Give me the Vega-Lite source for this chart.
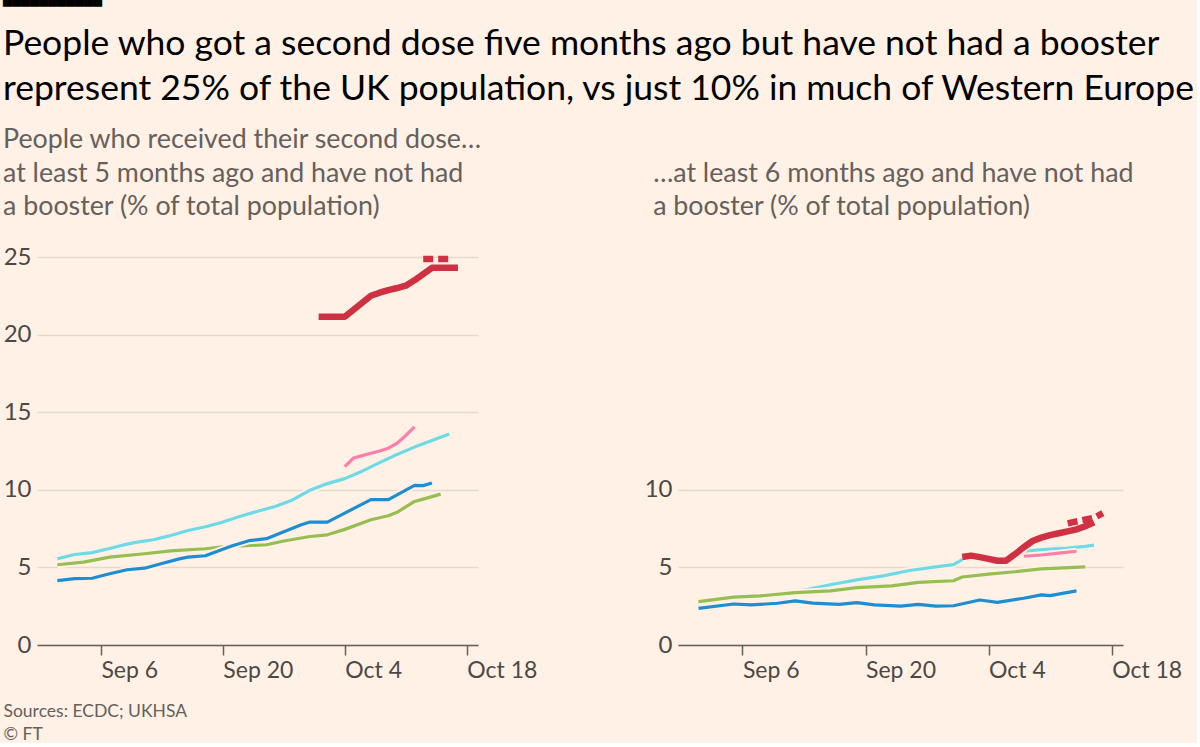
{
  "$schema": "https://vega.github.io/schema/vega-lite/v6.json",
  "background": "#FFF1E5",
  "padding": {"left": 3, "top": 0, "right": 0, "bottom": 0},
  "config": {
    "view": {"stroke": null},
    "font": "Lato",
    "axis": {"labelFont": "Lato", "titleFont": "Lato"}
  },
  "title": {
    "text": "▀▀▀▀▀▀▀▀▀▀▀",
    "subtitle": ["People who got a second dose five months ago but have not had a booster", "represent 25% of the UK population, vs just 10% in much of Western Europe"],
    "anchor": "start",
    "frame": "bounds",
    "font": "DejaVu Sans Mono",
    "fontSize": 14.949,
    "color": "#000000",
    "subtitleFont": "Lato",
    "subtitleFontSize": 35.5,
    "subtitleColor": "#000000",
    "subtitleLineHeight": 45,
    "subtitlePadding": 12,
    "offset": 19.3
  },
  "datasets": {
    "five": [
      {"series": "A", "date": "2021-09-01T00:00", "value": 5.56},
      {"series": "A", "date": "2021-09-03T00:00", "value": 5.83},
      {"series": "A", "date": "2021-09-05T00:00", "value": 5.95},
      {"series": "A", "date": "2021-09-07T00:00", "value": 6.22},
      {"series": "A", "date": "2021-09-09T00:00", "value": 6.5},
      {"series": "A", "date": "2021-09-10T00:00", "value": 6.61},
      {"series": "A", "date": "2021-09-12T00:00", "value": 6.78},
      {"series": "A", "date": "2021-09-14T00:00", "value": 7.05},
      {"series": "A", "date": "2021-09-16T00:00", "value": 7.38},
      {"series": "A", "date": "2021-09-18T00:00", "value": 7.62},
      {"series": "A", "date": "2021-09-20T00:00", "value": 7.92},
      {"series": "A", "date": "2021-09-22T00:00", "value": 8.29},
      {"series": "A", "date": "2021-09-24T00:00", "value": 8.62},
      {"series": "A", "date": "2021-09-26T00:00", "value": 8.92},
      {"series": "A", "date": "2021-09-28T00:00", "value": 9.35},
      {"series": "A", "date": "2021-09-30T00:00", "value": 9.97},
      {"series": "A", "date": "2021-10-02T00:00", "value": 10.4},
      {"series": "A", "date": "2021-10-04T00:00", "value": 10.72},
      {"series": "A", "date": "2021-10-06T00:00", "value": 11.2},
      {"series": "A", "date": "2021-10-08T00:00", "value": 11.75},
      {"series": "A", "date": "2021-10-10T00:00", "value": 12.28},
      {"series": "A", "date": "2021-10-12T00:00", "value": 12.75},
      {"series": "A", "date": "2021-10-14T00:00", "value": 13.17},
      {"series": "A", "date": "2021-10-16T00:00", "value": 13.6},
      {"series": "B", "date": "2021-09-01T00:00", "value": 5.17},
      {"series": "B", "date": "2021-09-04T00:00", "value": 5.34},
      {"series": "B", "date": "2021-09-07T00:00", "value": 5.66},
      {"series": "B", "date": "2021-09-11T00:00", "value": 5.88},
      {"series": "B", "date": "2021-09-14T00:00", "value": 6.07},
      {"series": "B", "date": "2021-09-18T00:00", "value": 6.2},
      {"series": "B", "date": "2021-09-20T00:00", "value": 6.33},
      {"series": "B", "date": "2021-09-22T00:00", "value": 6.38},
      {"series": "B", "date": "2021-09-25T00:00", "value": 6.46},
      {"series": "B", "date": "2021-09-27T00:00", "value": 6.7},
      {"series": "B", "date": "2021-09-30T00:00", "value": 6.99},
      {"series": "B", "date": "2021-10-02T00:00", "value": 7.1},
      {"series": "B", "date": "2021-10-04T00:00", "value": 7.45},
      {"series": "B", "date": "2021-10-07T00:00", "value": 8.07},
      {"series": "B", "date": "2021-10-09T00:00", "value": 8.33},
      {"series": "B", "date": "2021-10-10T00:00", "value": 8.55},
      {"series": "B", "date": "2021-10-12T00:00", "value": 9.25},
      {"series": "B", "date": "2021-10-13T00:00", "value": 9.4},
      {"series": "B", "date": "2021-10-15T00:00", "value": 9.72},
      {"series": "C", "date": "2021-09-01T00:00", "value": 4.15},
      {"series": "C", "date": "2021-09-03T00:00", "value": 4.28},
      {"series": "C", "date": "2021-09-05T00:00", "value": 4.3},
      {"series": "C", "date": "2021-09-07T00:00", "value": 4.59},
      {"series": "C", "date": "2021-09-09T00:00", "value": 4.85},
      {"series": "C", "date": "2021-09-11T00:00", "value": 4.95},
      {"series": "C", "date": "2021-09-13T00:00", "value": 5.25},
      {"series": "C", "date": "2021-09-15T00:00", "value": 5.55},
      {"series": "C", "date": "2021-09-16T00:00", "value": 5.66},
      {"series": "C", "date": "2021-09-18T00:00", "value": 5.75},
      {"series": "C", "date": "2021-09-21T00:00", "value": 6.38},
      {"series": "C", "date": "2021-09-23T00:00", "value": 6.72},
      {"series": "C", "date": "2021-09-25T00:00", "value": 6.85},
      {"series": "C", "date": "2021-09-27T00:00", "value": 7.3},
      {"series": "C", "date": "2021-09-29T00:00", "value": 7.75},
      {"series": "C", "date": "2021-09-30T00:00", "value": 7.92},
      {"series": "C", "date": "2021-10-02T00:00", "value": 7.92},
      {"series": "C", "date": "2021-10-04T00:00", "value": 8.5},
      {"series": "C", "date": "2021-10-07T00:00", "value": 9.37},
      {"series": "C", "date": "2021-10-09T00:00", "value": 9.37},
      {"series": "C", "date": "2021-10-12T00:00", "value": 10.29},
      {"series": "C", "date": "2021-10-13T00:00", "value": 10.27},
      {"series": "C", "date": "2021-10-14T00:00", "value": 10.44},
      {"series": "D", "date": "2021-10-04T00:00", "value": 11.5},
      {"series": "D", "date": "2021-10-05T00:00", "value": 12.05},
      {"series": "D", "date": "2021-10-06T00:00", "value": 12.2},
      {"series": "D", "date": "2021-10-07T00:00", "value": 12.35},
      {"series": "D", "date": "2021-10-08T00:00", "value": 12.5},
      {"series": "D", "date": "2021-10-09T00:00", "value": 12.68},
      {"series": "D", "date": "2021-10-10T00:00", "value": 13.0},
      {"series": "D", "date": "2021-10-11T00:00", "value": 13.5},
      {"series": "D", "date": "2021-10-12T00:00", "value": 14.05},
      {"series": "UK", "date": "2021-10-01T00:00", "value": 21.15},
      {"series": "UK", "date": "2021-10-02T00:00", "value": 21.15},
      {"series": "UK", "date": "2021-10-03T00:00", "value": 21.15},
      {"series": "UK", "date": "2021-10-04T00:00", "value": 21.15},
      {"series": "UK", "date": "2021-10-05T00:00", "value": 21.6},
      {"series": "UK", "date": "2021-10-06T00:00", "value": 22.05},
      {"series": "UK", "date": "2021-10-07T00:00", "value": 22.5},
      {"series": "UK", "date": "2021-10-08T00:00", "value": 22.7},
      {"series": "UK", "date": "2021-10-09T00:00", "value": 22.87},
      {"series": "UK", "date": "2021-10-10T00:00", "value": 23.0},
      {"series": "UK", "date": "2021-10-11T00:00", "value": 23.15},
      {"series": "UK", "date": "2021-10-12T00:00", "value": 23.5},
      {"series": "UK", "date": "2021-10-13T00:00", "value": 23.9},
      {"series": "UK", "date": "2021-10-14T00:00", "value": 24.3},
      {"series": "UK", "date": "2021-10-15T00:00", "value": 24.3},
      {"series": "UK", "date": "2021-10-16T00:00", "value": 24.3},
      {"series": "UK", "date": "2021-10-17T00:00", "value": 24.3},
      {"series": "UK alt", "date": "2021-10-13T00:00", "value": 24.87},
      {"series": "UK alt", "date": "2021-10-16T00:00", "value": 24.87}
    ],
    "six": [
      {"series": "A", "date": "2021-09-01T00:00", "value": 2.76},
      {"series": "A", "date": "2021-09-05T00:00", "value": 3.05},
      {"series": "A", "date": "2021-09-08T00:00", "value": 3.14},
      {"series": "A", "date": "2021-09-11T00:00", "value": 3.33},
      {"series": "A", "date": "2021-09-12T00:00", "value": 3.42},
      {"series": "A", "date": "2021-09-14T00:00", "value": 3.66},
      {"series": "A", "date": "2021-09-16T00:00", "value": 3.88},
      {"series": "A", "date": "2021-09-19T00:00", "value": 4.2},
      {"series": "A", "date": "2021-09-22T00:00", "value": 4.45},
      {"series": "A", "date": "2021-09-25T00:00", "value": 4.8},
      {"series": "A", "date": "2021-09-28T00:00", "value": 5.03},
      {"series": "A", "date": "2021-09-30T00:00", "value": 5.18},
      {"series": "A", "date": "2021-10-01T00:00", "value": 5.5},
      {"series": "A", "date": "2021-10-02T00:00", "value": 5.72},
      {"series": "A", "date": "2021-10-04T00:00", "value": 5.58},
      {"series": "A", "date": "2021-10-06T00:00", "value": 5.5},
      {"series": "A", "date": "2021-10-07T00:00", "value": 5.75},
      {"series": "A", "date": "2021-10-08T00:00", "value": 6.0},
      {"series": "A", "date": "2021-10-09T00:00", "value": 6.1},
      {"series": "A", "date": "2021-10-11T00:00", "value": 6.18},
      {"series": "A", "date": "2021-10-13T00:00", "value": 6.25},
      {"series": "A", "date": "2021-10-15T00:00", "value": 6.36},
      {"series": "A", "date": "2021-10-16T00:00", "value": 6.43},
      {"series": "B", "date": "2021-09-01T00:00", "value": 2.79},
      {"series": "B", "date": "2021-09-05T00:00", "value": 3.08},
      {"series": "B", "date": "2021-09-08T00:00", "value": 3.16},
      {"series": "B", "date": "2021-09-12T00:00", "value": 3.38},
      {"series": "B", "date": "2021-09-16T00:00", "value": 3.49},
      {"series": "B", "date": "2021-09-19T00:00", "value": 3.7},
      {"series": "B", "date": "2021-09-23T00:00", "value": 3.81},
      {"series": "B", "date": "2021-09-26T00:00", "value": 4.03},
      {"series": "B", "date": "2021-09-30T00:00", "value": 4.14},
      {"series": "B", "date": "2021-10-01T00:00", "value": 4.38},
      {"series": "B", "date": "2021-10-04T00:00", "value": 4.57},
      {"series": "B", "date": "2021-10-07T00:00", "value": 4.72},
      {"series": "B", "date": "2021-10-10T00:00", "value": 4.9},
      {"series": "B", "date": "2021-10-15T00:00", "value": 5.03},
      {"series": "C", "date": "2021-09-01T00:00", "value": 2.36},
      {"series": "C", "date": "2021-09-05T00:00", "value": 2.64},
      {"series": "C", "date": "2021-09-07T00:00", "value": 2.58},
      {"series": "C", "date": "2021-09-10T00:00", "value": 2.69},
      {"series": "C", "date": "2021-09-12T00:00", "value": 2.84},
      {"series": "C", "date": "2021-09-14T00:00", "value": 2.7},
      {"series": "C", "date": "2021-09-17T00:00", "value": 2.62},
      {"series": "C", "date": "2021-09-19T00:00", "value": 2.73},
      {"series": "C", "date": "2021-09-21T00:00", "value": 2.58},
      {"series": "C", "date": "2021-09-24T00:00", "value": 2.51},
      {"series": "C", "date": "2021-09-26T00:00", "value": 2.62},
      {"series": "C", "date": "2021-09-28T00:00", "value": 2.51},
      {"series": "C", "date": "2021-09-30T00:00", "value": 2.53},
      {"series": "C", "date": "2021-10-03T00:00", "value": 2.9},
      {"series": "C", "date": "2021-10-05T00:00", "value": 2.75},
      {"series": "C", "date": "2021-10-08T00:00", "value": 3.01},
      {"series": "C", "date": "2021-10-10T00:00", "value": 3.23},
      {"series": "C", "date": "2021-10-11T00:00", "value": 3.18},
      {"series": "C", "date": "2021-10-14T00:00", "value": 3.49},
      {"series": "D", "date": "2021-10-08T00:00", "value": 5.72},
      {"series": "D", "date": "2021-10-10T00:00", "value": 5.8},
      {"series": "D", "date": "2021-10-12T00:00", "value": 5.92},
      {"series": "D", "date": "2021-10-14T00:00", "value": 6.04},
      {"series": "UK", "date": "2021-10-01T00:00", "value": 5.67},
      {"series": "UK", "date": "2021-10-02T00:00", "value": 5.76},
      {"series": "UK", "date": "2021-10-03T00:00", "value": 5.66},
      {"series": "UK", "date": "2021-10-04T00:00", "value": 5.55},
      {"series": "UK", "date": "2021-10-05T00:00", "value": 5.43},
      {"series": "UK", "date": "2021-10-06T00:00", "value": 5.43},
      {"series": "UK", "date": "2021-10-07T00:00", "value": 5.85},
      {"series": "UK", "date": "2021-10-08T00:00", "value": 6.3},
      {"series": "UK", "date": "2021-10-09T00:00", "value": 6.7},
      {"series": "UK", "date": "2021-10-10T00:00", "value": 6.92},
      {"series": "UK", "date": "2021-10-11T00:00", "value": 7.08},
      {"series": "UK", "date": "2021-10-12T00:00", "value": 7.2},
      {"series": "UK", "date": "2021-10-13T00:00", "value": 7.32},
      {"series": "UK", "date": "2021-10-14T00:00", "value": 7.45},
      {"series": "UK", "date": "2021-10-15T00:00", "value": 7.65},
      {"series": "UK", "date": "2021-10-16T00:00", "value": 7.9},
      {"series": "UK alt", "date": "2021-10-13T00:00", "value": 7.84},
      {"series": "UK alt", "date": "2021-10-16T00:00", "value": 8.2},
      {"series": "UK alt", "date": "2021-10-17T00:00", "value": 8.5}
    ]
  },
  "bounds": "flush",
  "spacing": 200,
  "hconcat": [
    {
      "width": 441,
      "height": 388,
      "title": {
        "text": ["People who received their second dose…", "at least 5 months ago and have not had", "a booster (% of total population)"],
        "anchor": "start",
        "frame": "bounds",
        "font": "Lato",
        "fontSize": 26.8,
        "fontWeight": "normal",
        "color": "#66605C",
        "lineHeight": 33.5,
        "offset": 24
      },
      "data": {"name": "five"},
      "encoding": {
        "x": {
          "field": "date", "type": "temporal",
          "scale": {"domain": [{"year": 2021, "month": 8, "date": 29, "hours": 16}, {"year": 2021, "month": 10, "date": 19, "hours": 7}]},
          "axis": {
            "values": [{"year": 2021, "month": 9, "date": 6}, {"year": 2021, "month": 9, "date": 20}, {"year": 2021, "month": 10, "date": 4}, {"year": 2021, "month": 10, "date": 18}],
            "format": "%b %-d", "labelAlign": "left", "labelFontSize": 23, "labelColor": "#4D4845", "labelPadding": 4.5,
            "tickSize": 10, "tickColor": "#66605C", "tickWidth": 1.5, "domainColor": "#66605C", "domainWidth": 1.5,
            "grid": false, "labelOverlap": false, "labelFlush": false,
            "title": ["Sources: ECDC; UKHSA", "© FT"],
            "titleFontSize": 17.5, "titleFontWeight": "normal", "titleColor": "#66605C", "titleLineHeight": 23,
            "titleAnchor": "start", "titleAlign": "left", "titleBaseline": "alphabetic", "titleX": -34, "titleY": 71.2
          }
        },
        "y": {
          "field": "value", "type": "quantitative",
          "scale": {"domain": [0, 25]},
          "axis": {
            "values": [0, 5, 10, 15, 20, 25], "domain": false, "ticks": false, "grid": true, "gridColor": "#E6D9CE", "gridWidth": 1.3,
            "labelFontSize": 24, "labelColor": "#4D4845", "labelPadding": 6, "title": null
          }
        }
      },
      "layer": [
        {"transform": [{"filter": "datum.series === 'A'"}], "mark": {"type": "line", "stroke": "#FFF1E5", "strokeWidth": 7, "strokeJoin": "round"}},
        {"transform": [{"filter": "datum.series === 'A'"}], "mark": {"type": "line", "stroke": "#6EDAE6", "strokeWidth": 3.2, "strokeJoin": "round"}},
        {"transform": [{"filter": "datum.series === 'B'"}], "mark": {"type": "line", "stroke": "#FFF1E5", "strokeWidth": 7, "strokeJoin": "round"}},
        {"transform": [{"filter": "datum.series === 'B'"}], "mark": {"type": "line", "stroke": "#96BE50", "strokeWidth": 3.2, "strokeJoin": "round"}},
        {"transform": [{"filter": "datum.series === 'C'"}], "mark": {"type": "line", "stroke": "#FFF1E5", "strokeWidth": 7, "strokeJoin": "round"}},
        {"transform": [{"filter": "datum.series === 'C'"}], "mark": {"type": "line", "stroke": "#1E8DD2", "strokeWidth": 3.2, "strokeJoin": "round"}},
        {"transform": [{"filter": "datum.series === 'D'"}], "mark": {"type": "line", "stroke": "#FFF1E5", "strokeWidth": 7, "strokeJoin": "round"}},
        {"transform": [{"filter": "datum.series === 'D'"}], "mark": {"type": "line", "stroke": "#FF7FAA", "strokeWidth": 3.2, "strokeJoin": "round"}},
        {"transform": [{"filter": "datum.series === 'UK'"}], "mark": {"type": "line", "stroke": "#FFF1E5", "strokeWidth": 10, "strokeJoin": "round"}},
        {"transform": [{"filter": "datum.series === 'UK'"}], "mark": {"type": "line", "stroke": "#CF3142", "strokeWidth": 6.5, "strokeJoin": "round"}},
        {"transform": [{"filter": "datum.series === 'UK alt'"}], "mark": {"type": "line", "stroke": "#CF3142", "strokeWidth": 6.5, "strokeDash": [10, 5]}}
      ]
    },
    {
      "width": 445,
      "height": 388,
      "title": {
        "text": [" ", "…at least 6 months ago and have not had", "a booster (% of total population)"],
        "anchor": "start",
        "frame": "bounds",
        "font": "Lato",
        "fontSize": 26.8,
        "fontWeight": "normal",
        "color": "#66605C",
        "lineHeight": 33.5,
        "offset": 36,
        "dx": 9
      },
      "data": {"name": "six"},
      "encoding": {
        "x": {
          "field": "date", "type": "temporal",
          "scale": {"domain": [{"year": 2021, "month": 8, "date": 29, "hours": 16}, {"year": 2021, "month": 10, "date": 19, "hours": 7}]},
          "axis": {
            "values": [{"year": 2021, "month": 9, "date": 6}, {"year": 2021, "month": 9, "date": 20}, {"year": 2021, "month": 10, "date": 4}, {"year": 2021, "month": 10, "date": 18}],
            "format": "%b %-d", "labelAlign": "left", "labelFontSize": 23, "labelColor": "#4D4845", "labelPadding": 4.5,
            "tickSize": 10, "tickColor": "#66605C", "tickWidth": 1.5, "domainColor": "#66605C", "domainWidth": 1.5,
            "grid": false, "labelOverlap": false, "labelFlush": false, "title": null
          }
        },
        "y": {
          "field": "value", "type": "quantitative",
          "scale": {"domain": [0, 25]},
          "axis": {
            "values": [0, 5, 10], "domain": false, "ticks": false, "grid": true, "gridColor": "#E6D9CE", "gridWidth": 1.3,
            "labelFontSize": 24, "labelColor": "#4D4845", "labelPadding": 6, "title": null
          }
        }
      },
      "layer": [
        {"transform": [{"filter": "datum.series === 'A'"}], "mark": {"type": "line", "stroke": "#FFF1E5", "strokeWidth": 7, "strokeJoin": "round"}},
        {"transform": [{"filter": "datum.series === 'A'"}], "mark": {"type": "line", "stroke": "#6EDAE6", "strokeWidth": 3.2, "strokeJoin": "round"}},
        {"transform": [{"filter": "datum.series === 'B'"}], "mark": {"type": "line", "stroke": "#FFF1E5", "strokeWidth": 7, "strokeJoin": "round"}},
        {"transform": [{"filter": "datum.series === 'B'"}], "mark": {"type": "line", "stroke": "#96BE50", "strokeWidth": 3.2, "strokeJoin": "round"}},
        {"transform": [{"filter": "datum.series === 'C'"}], "mark": {"type": "line", "stroke": "#FFF1E5", "strokeWidth": 7, "strokeJoin": "round"}},
        {"transform": [{"filter": "datum.series === 'C'"}], "mark": {"type": "line", "stroke": "#1E8DD2", "strokeWidth": 3.2, "strokeJoin": "round"}},
        {"transform": [{"filter": "datum.series === 'D'"}], "mark": {"type": "line", "stroke": "#FFF1E5", "strokeWidth": 7, "strokeJoin": "round"}},
        {"transform": [{"filter": "datum.series === 'D'"}], "mark": {"type": "line", "stroke": "#FF7FAA", "strokeWidth": 3.2, "strokeJoin": "round"}},
        {"transform": [{"filter": "datum.series === 'UK'"}], "mark": {"type": "line", "stroke": "#FFF1E5", "strokeWidth": 10, "strokeJoin": "round"}},
        {"transform": [{"filter": "datum.series === 'UK'"}], "mark": {"type": "line", "stroke": "#CF3142", "strokeWidth": 6.5, "strokeJoin": "round"}},
        {"transform": [{"filter": "datum.series === 'UK alt'"}], "mark": {"type": "line", "stroke": "#CF3142", "strokeWidth": 6.5, "strokeDash": [10, 5]}}
      ]
    }
  ]
}
